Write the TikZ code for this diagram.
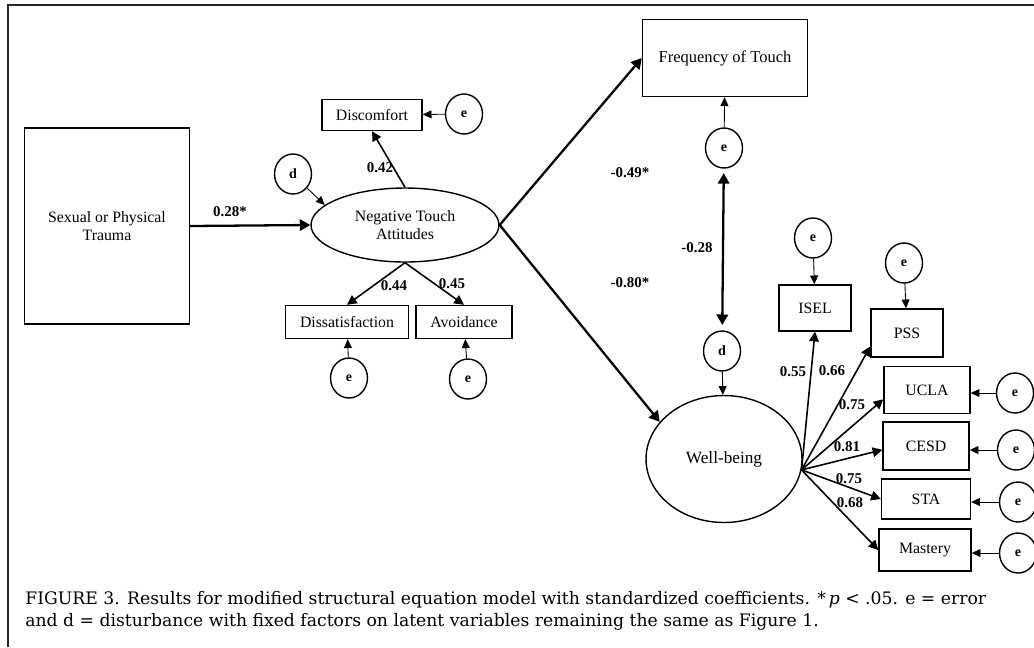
\documentclass[tikz,border=0pt]{standalone}
\usepackage{fontspec}
\setmainfont{Liberation Serif}
\newfontfamily\capfont{DejaVu Serif}
\usetikzlibrary{arrows.meta, positioning, shapes.geometric}

\tikzset{
  obs/.style={draw, rectangle, line width=0.8pt, inner sep=2pt, align=center,
    font=\fontsize{9}{10.5}\selectfont},
  lat/.style={draw, ellipse, line width=0.8pt, inner sep=0pt, align=center,
    font=\fontsize{9}{10.5}\selectfont},
  err/.style={draw, ellipse, line width=0.8pt, inner sep=0pt,
    minimum width=0.74cm, minimum height=0.8cm,
    font=\fontsize{8}{9}\selectfont\bfseries},
  coef/.style={inner sep=1pt, font=\fontsize{8.5}{10}\selectfont\bfseries},
  captext/.style={anchor=base west, inner sep=0pt, font=\capfont\fontsize{9.8}{12}\selectfont},
  bigarr/.style={-{Triangle[length=6pt,width=6.5pt]}, line width=1.3pt},
  midarr/.style={-{Triangle[length=5.5pt,width=5.5pt]}, line width=0.9pt},
  thinarr/.style={-{Triangle[length=5pt,width=4.5pt]}, line width=0.5pt},
}

\begin{document}
\begin{tikzpicture}[x=0.02cm, y=-0.02cm]
        \useasboundingbox (0,0) rectangle (1034,647);
        \draw[line width=1.1pt, black!85] (8,647) -- (8,5) -- (1034,5);

        % left part
        \node[obs, minimum width=3.3cm, minimum height=3.92cm] (trauma) at (107,226)
              {Sexual or Physical\\Trauma};
        \node[lat, minimum width=3.76cm, minimum height=1.48cm] (nta) at (405,225)
              {Negative Touch\\Attitudes};
        \node[obs, minimum width=2cm, minimum height=0.62cm] (disc) at (372,115) {Discomfort};
        \node[obs, minimum width=2.46cm, minimum height=0.66cm] (dis) at (347,322) {Dissatisfaction};
        \node[obs, minimum width=1.92cm, minimum height=0.66cm] (av) at (464,322) {Avoidance};

        \node[err] (edisc) at (464,114) {e};
        \node[err] (dnta) at (293,174) {d};
        \node[err] (edis) at (349,378) {e};
        \node[err] (eav) at (468,379) {e};

        % right part
        \node[obs, minimum width=3.3cm, minimum height=1.54cm,
              font=\fontsize{9.4}{11}\selectfont] (freq) at (725,58) {Frequency of Touch};
        \node[lat, minimum width=3.12cm, minimum height=2.54cm,
              font=\fontsize{9.8}{11}\selectfont] (wb) at (724,459) {Well-being};
        \node[err] (efreq) at (724,148) {e};
        \node[err] (dwb) at (722,351) {d};

        \node[obs, minimum width=1.44cm, minimum height=0.92cm] (isel) at (815,308) {ISEL};
        \node[obs, minimum width=1.44cm, minimum height=0.96cm] (pss) at (907,333) {PSS};
        \node[obs, minimum width=1.72cm, minimum height=0.94cm] (ucla) at (927,390) {UCLA};
        \node[obs, minimum width=1.72cm, minimum height=0.96cm] (cesd) at (926,446) {CESD};
        \node[obs, minimum width=1.78cm, minimum height=0.8cm] (sta) at (926,499) {STA};
        \node[obs, minimum width=1.84cm, minimum height=0.84cm] (mast) at (925,550) {Mastery};

        \node[err] (eisel) at (813,238) {e};
        \node[err] (epss) at (904,263) {e};
        \node[err] (eucla) at (1015,393) {e};
        \node[err] (ecesd) at (1016,450) {e};
        \node[err] (esta) at (1018,502) {e};
        \node[err] (emast) at (1018,553) {e};

        % paths
        \draw[bigarr] (trauma.east) -- (nta.west);
        \draw[midarr] (nta.north) -- (disc.south);
        \draw[midarr] (nta.south) -- (dis.north);
        \draw[midarr] (nta.south) -- (av.north);
        \draw[thinarr] (edisc) -- (disc);
        \draw[thinarr] (dnta.-45) -- (nta.166);
        \draw[thinarr] (edis) -- (dis);
        \draw[thinarr] (eav) -- (av);

        \draw[bigarr] (nta.east) -- (freq.west);
        \draw[bigarr] (nta.east) -- (wb.150);
        \draw[thinarr] (efreq) -- (freq);
        \draw[bigarr, {Triangle[length=6pt,width=6.5pt]}-{Triangle[length=6pt,width=6.5pt]},
              shorten <=2.5pt, shorten >=3pt] (efreq) -- (dwb);
        \draw[thinarr] (dwb) -- (wb);

        \draw[midarr] (wb.-8) -- (isel.south);
        \draw[midarr] (wb.-8) -- (pss.-160);
        \draw[midarr] (wb.-8) -- (ucla.-168);
        \draw[midarr] (wb.-8) -- (cesd.-175);
        \draw[midarr] (wb.-8) -- (sta.west);
        \draw[midarr] (wb.-8) -- (mast.west);

        \draw[thinarr] (eisel) -- (isel);
        \draw[thinarr] (epss) -- (pss);
        \draw[thinarr] (eucla) -- (ucla.east |- eucla);
        \draw[thinarr] (ecesd) -- (cesd.east |- ecesd);
        \draw[thinarr] (esta) -- (sta.east |- esta);
        \draw[thinarr] (emast) -- (mast.east |- emast);

        % coefficients
        \node[coef] (c28) at (230,212) {0.28*};
        \node[coef] (c42) at (380,168) {0.42};
        \node[coef] (c44) at (394,286) {0.44};
        \node[coef] (c45) at (452,284) {0.45};
        \node[coef] (c49) at (630,173) {-0.49*};
        \node[coef] (c80) at (630,283) {-0.80*};
        \node[coef] (cov) at (697,248) {-0.28};
        \node[coef] (c55) at (793,372) {0.55};
        \node[coef] (c66) at (832,371) {0.66};
        \node[coef] (c75a) at (852,405) {0.75};
        \node[coef] (c81) at (847,447) {0.81};
        \node[coef] (c75b) at (849,479) {0.75};
        \node[coef] (c68) at (850,503) {0.68};

        % caption
        \node[captext] (cap1) at (25,604)
              {FIGURE 3. Results for modified structural equation model with standardized coefficients. *\,\textit{p} < .05. e = error};
        \node[captext] (cap2) at (25,626)
              {and d = disturbance with fixed factors on latent variables remaining the same as Figure 1.};
\end{tikzpicture}
\end{document}
